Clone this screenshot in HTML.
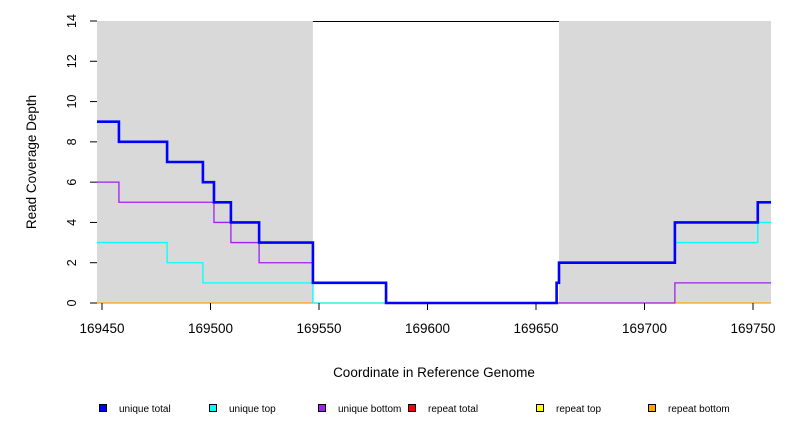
<!DOCTYPE html>
<html><head><meta charset="utf-8"><style>
body{margin:0;background:#fff}
svg text{font-family:"Liberation Sans",sans-serif}
</style></head><body>
<svg id="c" width="792" height="432" xmlns="http://www.w3.org/2000/svg"></svg>
<script>
const xTicks=[169450,169500,169550,169600,169650,169700,169750];
const yTicks=[0,2,4,6,8,10,12,14];
const shadeRanges=[[169447.7,169547.2],[169660.6,169758.3]];
// step series: breakpoints (x) and values (value holds from x[i] to x[i+1])
const totalX=[169447.7,169457.8,169480,169496.5,169501.6,169509.4,169522.4,169547.2,169580.9,169659.5,169660.6,169714,169752.2,169758.3];
const totalY=[9,8,7,6,5,4,3,1,0,1,2,4,5];
const topX=[169447.7,169480,169496.5,169547.2,169659.5,169660.6,169714,169752.2,169758.3];
const topY=[3,2,1,0,1,2,3,4];
const botX=[169447.7,169457.8,169501.6,169509.4,169522.4,169547.2,169580.9,169714,169758.3];
const botY=[6,5,4,3,2,1,0,1];
const repBotX=[169447.7,169758.3];
const repBotY=[0];
const legendLabels=["unique total","unique top","unique bottom","repeat total","repeat top","repeat bottom"];
const legendColors=["#0000ff","#00ffff","#a020f0","#ff0000","#ffff00","#ffa500"];
const legendX=[103,213,322,412,540,652];

const svg=document.getElementById('c');
const NS="http://www.w3.org/2000/svg";
const X0=169450,PX0=102,SX=651/300;
const sx=v=>PX0+(v-X0)*SX;
const sy=v=>303-v*(282/14);
function mk(t,a,p){const e=document.createElementNS(NS,t);for(const k in a)e.setAttribute(k,a[k]);(p||svg).appendChild(e);return e;}

shadeRanges.forEach((r,i)=>{
 const e=mk('rect',{x:sx(r[0]),y:sy(14),width:sx(r[1])-sx(r[0]),height:sy(0)-sy(14),fill:'#d9d9d9'});
 
 
});
const tl=mk('line',{x1:sx(shadeRanges[0][1]),x2:sx(shadeRanges[1][0]),y1:sy(14)+0.5,y2:sy(14)+0.5,stroke:'#000','stroke-width':1});



function step(xs,ys,color,w,name){
 let d='M'+sx(xs[0])+','+sy(ys[0]);
 for(let i=0;i<ys.length;i++){
  d+=' L'+sx(xs[i+1])+','+sy(ys[i]);
  if(i+1<ys.length)d+=' L'+sx(xs[i+1])+','+sy(ys[i+1]);
 }
 const e=mk('path',{d:d,fill:'none',stroke:color,'stroke-width':w});
 
 
}
step(repBotX,repBotY,'#ffa500',1.3,'repeat-bottom-line');
step(botX,botY,'#a020f0',1.3,'unique-bottom-line');
step(topX,topY,'#00ffff',1.3,'unique-top-line');
step(totalX,totalY,'#0000ff',2.6,'unique-total-line');

const ya=mk('g',{});


yTicks.forEach(v=>{
 mk('line',{x1:90,x2:97,y1:sy(v),y2:sy(v),stroke:'#000'},ya);
 const t=mk('text',{x:76,y:sy(v),'font-size':12.5,'text-anchor':'middle',transform:'rotate(-90 76 '+sy(v)+')'},ya);
 t.textContent=v;
});
const xa=mk('g',{});


xTicks.forEach(v=>{
 mk('line',{x1:sx(v),x2:sx(v),y1:303,y2:310,stroke:'#000'},xa);
 const t=mk('text',{x:sx(v),y:333,'font-size':13.5,'text-anchor':'middle'},xa);
 t.textContent=v;
});
const xt=mk('text',{x:434,y:377,'font-size':13.5,'text-anchor':'middle'});
xt.textContent='Coordinate in Reference Genome';


const yt=mk('text',{x:36,y:162,'font-size':13.5,'text-anchor':'middle',transform:'rotate(-90 36 162)'});
yt.textContent='Read Coverage Depth';



legendLabels.forEach((l,i)=>{
 const g=mk('g',{});
 
 
 mk('rect',{x:legendX[i]-3.5,y:404.5,width:7,height:7,fill:legendColors[i],stroke:'#000','stroke-width':1},g);
 const t=mk('text',{x:legendX[i]+16,y:412,'font-size':10},g);
 t.textContent=l;
});
</script>
</body></html>
